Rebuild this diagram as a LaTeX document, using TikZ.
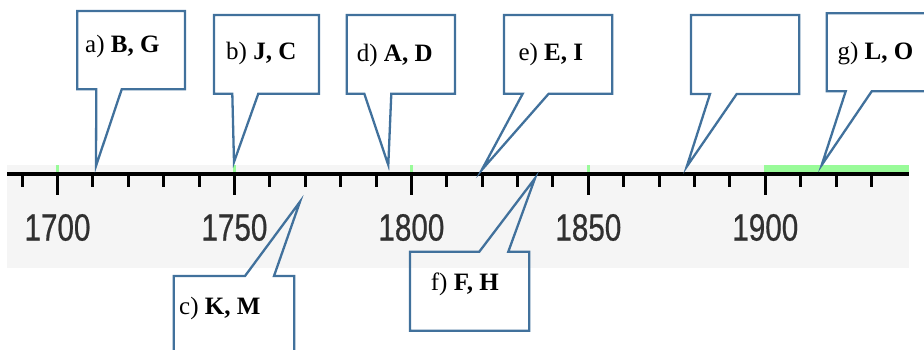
\documentclass[tikz,border=0pt]{standalone}
\usepackage{fontspec}
\setmainfont{Liberation Serif}
\newfontfamily\yearfont[FakeStretch=0.78,FakeBold=0.6]{Liberation Sans}
\definecolor{callblue}{HTML}{41719C}
\definecolor{markgreen}{HTML}{99FB99}
\definecolor{bandgray}{HTML}{F5F5F5}
\definecolor{yeargray}{HTML}{303030}
\tikzset{
  callout/.style={draw=callblue, line width=2.3pt, line join=miter, miter limit=20},
  calltext/.style={anchor=base west, inner sep=0pt, font=\fontsize{25}{25}\selectfont},
  yearlabel/.style={anchor=center, inner sep=0pt, text=yeargray, font=\yearfont\fontsize{38}{38}\selectfont},
  axisline/.style={line width=4pt},
  majortick/.style={line width=3pt},
  minortick/.style={line width=3pt}
}
\begin{document}
\begin{tikzpicture}[x=1pt,y=-1pt]
\useasboundingbox (0,0) rectangle (924,349);
\clip (0,0) rectangle (924,349);
% background band
\fill[bandgray] (7,165) rectangle (909,268);
% green marks
\foreach \yr in {1700,1750,1800,1850}{
  \pgfmathsetmacro\xx{57.5+(\yr-1700)*3.539}
  \fill[markgreen] (\xx-1.4,165) rectangle (\xx+1.4,172);
}
\fill[markgreen] (764,165) rectangle (909,172);
% axis
\coordinate (axL) at (7,174);
\coordinate (axR) at (909,174);
\draw[axisline] (axL) -- (axR);
\foreach \yr in {1690,1710,1720,1730,1740,1760,1770,1780,1790,1810,1820,1830,1840,1860,1870,1880,1890,1910,1920,1930}{
  \pgfmathsetmacro\xx{57.5+(\yr-1700)*3.539}
  \coordinate (t\yr) at (\xx,174);
  \draw[minortick] (t\yr) -- ++(0,12.5);
}
\foreach \yr in {1700,1750,1800,1850,1900}{
  \pgfmathsetmacro\xx{57.5+(\yr-1700)*3.539}
  \coordinate (t\yr) at (\xx,174);
  \draw[majortick] (t\yr) -- ++(0,20.5);
  \node[yearlabel] (y\yr) at (\xx,227.5) {\yr};
}
% callouts above
\draw[callout] (77.3,11) -- (185,11) -- (185,89.3) -- (121.7,89.3) -- (96,166) -- (96.3,89.3) -- (77.3,89.3) -- cycle;
\node[calltext] (ta) at (85,52) {a) \textbf{B, G}};
\draw[callout] (214,15) -- (319,15) -- (319,93.7) -- (258.3,93.7) -- (234,162) -- (232.3,93.7) -- (214,93.7) -- cycle;
\node[calltext] (tb) at (226,59.3) {b) \textbf{J, C}};
\draw[callout] (346.7,15) -- (455,15) -- (455,93.7) -- (391.3,93.7) -- (388.3,165) -- (364.3,93.7) -- (346.7,93.7) -- cycle;
\node[calltext] (td) at (356.7,61) {d) \textbf{A, D}};
\draw[callout] (504,15) -- (612.3,15) -- (612.3,93.7) -- (548.7,93.7) -- (481.7,170) -- (522.7,93.7) -- (504,93.7) -- cycle;
\node[calltext] (te) at (518.3,60) {e) \textbf{E, I}};
\draw[callout] (691,15) -- (799.3,15) -- (799.3,94) -- (736.7,94) -- (686.7,166.7) -- (710,94) -- (691,94) -- cycle;
\draw[callout] (826.7,13.3) -- (932,13.3) -- (932,91.3) -- (871.7,91.3) -- (821.7,165) -- (845.7,91.3) -- (826.7,91.3) -- cycle;
\node[calltext] (tg) at (837.3,59.3) {g) \textbf{L, O}};
% callouts below
\draw[callout] (173.7,276) -- (245,276) -- (300,201.7) -- (274,276) -- (294.3,276) -- (294.3,360) -- (173.7,360) -- cycle;
\node[calltext] (tc) at (179,314) {c) \textbf{K, M}};
\draw[callout] (410,251.7) -- (479.3,251.7) -- (535,178.3) -- (508.3,251.7) -- (529.3,251.7) -- (529.3,330.7) -- (410,330.7) -- cycle;
\node[calltext] (tf) at (430.7,290) {f) \textbf{F, H}};
\end{tikzpicture}
\end{document}
